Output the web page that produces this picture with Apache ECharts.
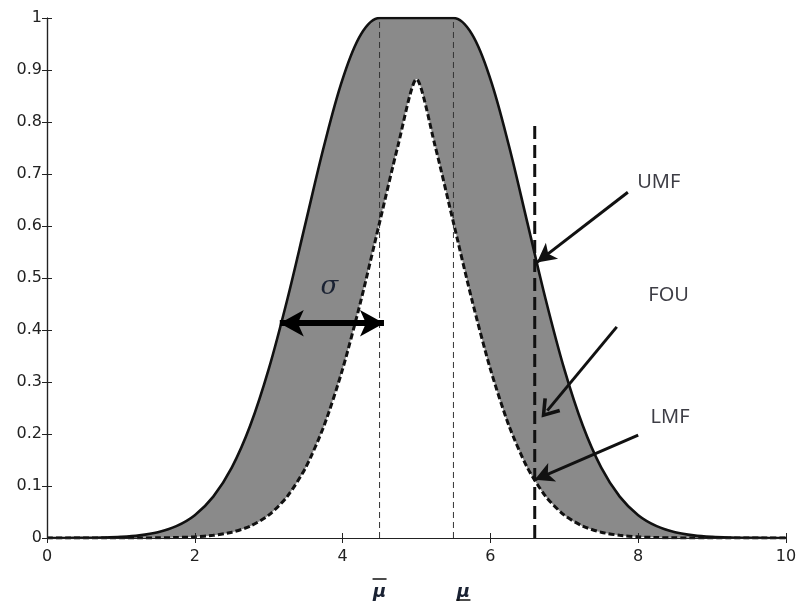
<!DOCTYPE html>
<html>
<head>
<meta charset="utf-8">
<script src="https://cdn.jsdelivr.net/npm/echarts@6/dist/echarts.min.js"></script>
<style>
  html, body { margin: 0; padding: 0; background: #fff; }
  #main { width: 800px; height: 602px; }
</style>
</head>
<body>
<div id="main"></div>
<script>
// x positions (step 0.25)
var xs = [0, 0.25, 0.5, 0.75, 1, 1.25, 1.5, 1.75, 2, 2.25, 2.5, 2.75, 3, 3.25, 3.5, 3.75, 4, 4.25, 4.5, 4.75,
  5, 5.25, 5.5, 5.75, 6, 6.25, 6.5, 6.75, 7, 7.25, 7.5, 7.75, 8, 8.25, 8.5, 8.75, 9, 9.25, 9.5, 9.75, 10];

// upper membership function (solid)
var umf = [0, 0.0001, 0.0003, 0.0009, 0.0022, 0.0051, 0.0111, 0.0228, 0.0439, 0.0796, 0.1353, 0.2163, 0.3247,
  0.4578, 0.6065, 0.7548, 0.8825, 0.969, 1, 1, 1, 1, 1, 0.969, 0.8825, 0.7548, 0.6065, 0.4578, 0.3247, 0.2163,
  0.1353, 0.0796, 0.0439, 0.0228, 0.0111, 0.0051, 0.0022, 0.0009, 0.0003, 0.0001, 0];

// lower membership function (dashed)
var lmf = [0, 0, 0, 0, 0, 0.0001, 0.0003, 0.0009, 0.0022, 0.0051, 0.0111, 0.0228, 0.0439, 0.0796, 0.1353,
  0.2163, 0.3247, 0.4578, 0.6065, 0.7548, 0.8825, 0.7548, 0.6065, 0.4578, 0.3247, 0.2163, 0.1353, 0.0796,
  0.0439, 0.0228, 0.0111, 0.0051, 0.0022, 0.0009, 0.0003, 0.0001, 0, 0, 0, 0, 0];

var meanLines = [4.5, 5.5];           // thin dashed verticals (mu bar, mu underline)
var cutLine = [[6.6, 0], [6.6, 0.8]]; // thick dashed vertical

// annotations: [label, textX, textY, arrowFrom, arrowTo]
var notes = [
  ['UMF', 7.98, 0.685, [7.86, 0.665], [6.63, 0.53]],
  ['FOU', 8.13, 0.467, [7.71, 0.406], [6.77, 0.245]],
  ['LMF', 8.16, 0.233, [8.0, 0.198], [6.6, 0.112]]
];
var sigmaArrow = [[3.15, 0.413], [4.56, 0.413]];
var sigmaLabel = [3.82, 0.483];

var chart = echarts.init(document.getElementById('main'));

function pairs(ys) {
  return xs.map(function (x, i) { return [x, ys[i]]; });
}

var vlines = meanLines.map(function (m) {
  return {
    type: 'line', data: [[m, 0], [m, 1]], symbol: 'none', silent: true,
    lineStyle: { color: '#333', width: 1, type: [6, 4] }
  };
});

var openHead = 'path://M10,0 L20,13 L17.2,14.6 L10,5 L2.8,14.6 L0,13 Z';
var noteLines = notes.map(function (n) {
  var end = { coord: n[4] };
  if (n[0] === 'FOU') { end.symbol = openHead; end.symbolSize = [22, 18]; }
  return [{ coord: n[3] }, end];
});

var font = 'DejaVu Sans, sans-serif';
var hidden = { color: 'rgba(0,0,0,0)' };

var option = {
  animation: false,
  backgroundColor: '#fff',
  grid: { left: 47, right: 14, top: 18, bottom: 64 },
  xAxis: [
    {
      type: 'value', min: 0, max: 10, interval: 2, z: 5,
      axisLine: { lineStyle: { color: '#222', width: 1.2 } },
      axisTick: { inside: true, length: 5, lineStyle: { color: '#222' } },
      axisLabel: { color: '#222', fontSize: 16, fontFamily: font, margin: 11 },
      splitLine: { show: false }
    },
    {
      type: 'value', min: 0, max: 10, interval: 2, position: 'top', z: 5,
      axisLine: { lineStyle: { color: '#222', width: 1.2 } },
      axisTick: { inside: true, length: 5, lineStyle: { color: '#222' } },
      axisLabel: { show: false }, splitLine: { show: false }
    }
  ],
  yAxis: [
    {
      type: 'value', min: 0, max: 1, interval: 0.1, z: 5,
      axisLine: { show: true, lineStyle: { color: '#222', width: 1.2 } },
      axisTick: { show: true, inside: true, length: 5, lineStyle: { color: '#222' } },
      axisLabel: { color: '#222', fontSize: 16, fontFamily: font, margin: 5 },
      splitLine: { show: false }
    },
    {
      type: 'value', min: 0, max: 1, interval: 0.1, position: 'right', z: 5,
      axisLine: { show: true, lineStyle: { color: '#222', width: 1.2 } },
      axisTick: { show: true, inside: true, length: 5, lineStyle: { color: '#222' } },
      axisLabel: { show: false }, splitLine: { show: false }
    }
  ],
  series: [
    {
      name: 'UMF area', type: 'line', data: pairs(umf), symbol: 'none', smooth: 0.35, silent: true,
      lineStyle: { width: 0 }, areaStyle: { color: '#8a8a8a', opacity: 1 }
    },
    {
      name: 'LMF area', type: 'line', data: pairs(lmf), symbol: 'none', smooth: 0.25, silent: true,
      lineStyle: { width: 0 }, areaStyle: { color: '#fff', opacity: 1 }
    }
  ].concat(vlines).concat([
    {
      name: 'UMF', type: 'line', data: pairs(umf), symbol: 'none', smooth: 0.35,
      lineStyle: { color: '#111', width: 2.6 }
    },
    {
      name: 'LMF', type: 'line', data: pairs(lmf), symbol: 'none', smooth: 0.25,
      lineStyle: { color: '#111', width: 3, type: [6, 3] }
    },
    {
      name: 'cut', type: 'line', data: cutLine, symbol: 'none',
      lineStyle: { color: '#111', width: 3, type: [13, 6] }
    },
    {
      name: 'notes', type: 'scatter', data: notes.map(function (n) { return [n[1], n[2], n[0]]; }),
      symbolSize: 1, itemStyle: hidden, silent: true,
      label: {
        show: true, position: 'right', distance: 0, color: '#0d0d16', fontSize: 20, fontFamily: 'Noto Sans, sans-serif',
        formatter: function (p) { return p.value[2]; }
      },
      markLine: {
        silent: true, symbol: ['none', 'arrow'], symbolSize: [15, 19], label: { show: false },
        lineStyle: { color: '#111', width: 3, type: 'solid' },
        data: noteLines
      }
    },
    {
      name: 'sigma', type: 'line', data: [], symbol: 'none', silent: true,
      markLine: {
        silent: true, symbol: ['arrow', 'arrow'], symbolSize: [20, 24], label: { show: false },
        lineStyle: { color: '#000', width: 6, type: 'solid' },
        data: [[{ coord: sigmaArrow[0] }, { coord: sigmaArrow[1] }]]
      }
    }
  ])
};

chart.setOption(option);

// sigma label and mu-bar / mu-underline labels below the x axis
var toPx = function (pt) { return chart.convertToPixel({ xAxisIndex: 0, yAxisIndex: 0 }, pt); };
var pSig = toPx(sigmaLabel);
var pBar = toPx([meanLines[0], 0]);
var pUnd = toPx([meanLines[1], 0]);
var muStyle = { fill: '#1a2233', font: 'italic bold 18px DejaVu Sans, sans-serif', align: 'center', verticalAlign: 'middle' };
chart.setOption({
  graphic: [
    { type: 'text', x: pSig[0], y: pSig[1], z: 100,
      style: { text: 'σ', fill: '#1a2233', font: 'italic 26px DejaVu Serif, serif', align: 'center', verticalAlign: 'middle' } },
    { type: 'text', x: pBar[0], y: pBar[1] + 54, style: Object.assign({ text: 'μ' }, muStyle) },
    { type: 'line', shape: { x1: pBar[0] - 7, y1: pBar[1] + 41, x2: pBar[0] + 7, y2: pBar[1] + 41 },
      style: { stroke: '#111', lineWidth: 1.5 } },
    { type: 'text', x: pUnd[0] + 10, y: pUnd[1] + 54, style: Object.assign({ text: 'μ' }, muStyle) },
    { type: 'line', shape: { x1: pUnd[0] + 3, y1: pUnd[1] + 62, x2: pUnd[0] + 17, y2: pUnd[1] + 62 },
      style: { stroke: '#111', lineWidth: 1.5 } }
  ]
});
</script>
</body>
</html>
